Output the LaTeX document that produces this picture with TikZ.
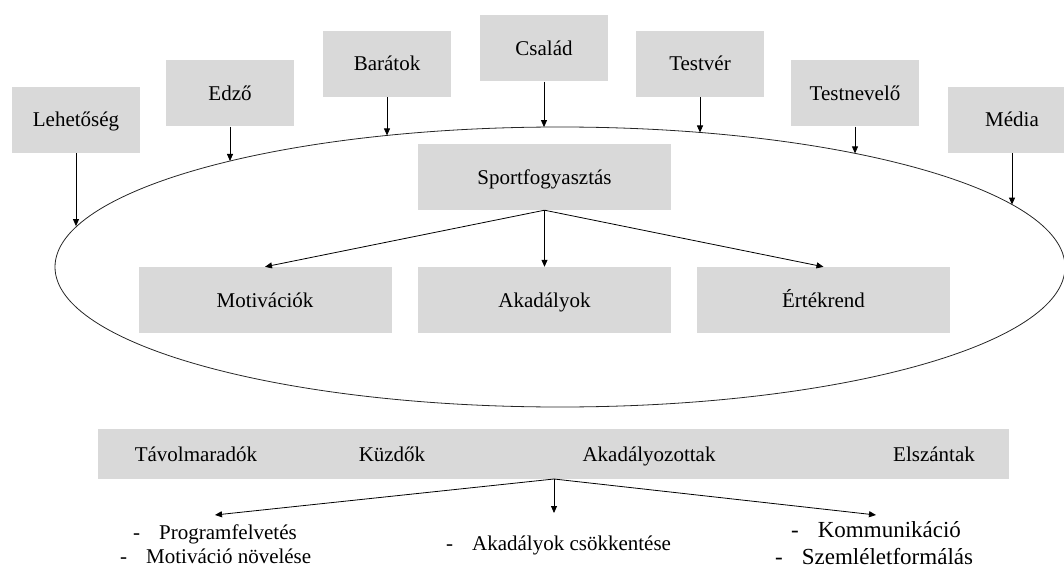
\documentclass[tikz,border=0pt]{standalone}
\usepackage{fontspec}
\setmainfont{Liberation Serif}
\usetikzlibrary{arrows.meta}
\definecolor{boxgray}{HTML}{D9D9D9}
\tikzset{
  txt/.style={font=\fontsize{21pt}{25pt}\selectfont, text=black, inner sep=0pt},
  txtbig/.style={font=\fontsize{23pt}{27pt}\selectfont, text=black, inner sep=0pt},
  ctxt/.style={txt, text height=14pt, text depth=0pt},
  topbox/.style={ctxt, fill=boxgray, minimum width=128pt, minimum height=66pt},
  midbox/.style={ctxt, fill=boxgray, minimum width=253pt, minimum height=66pt},
  arr/.style={-{Triangle[length=7pt,width=6pt]}, line width=0.8pt, draw=black},
  ellline/.style={line width=0.8pt, draw=black!85}
}
\begin{document}
\begin{tikzpicture}[x=1pt,y=-1pt]
\useasboundingbox (0,0) rectangle (1064,572);
\clip (0,0) rectangle (1064,572);

% ellipse
\draw[ellline] (560,267) ellipse [x radius=505pt, y radius=140pt];

% top boxes
\node[topbox] (lh) at (76,120) {Lehetőség};
\node[topbox] (ed) at (230,93.5) {Edző};
\node[topbox] (ba) at (387,64) {Barátok};
\node[topbox] (cs) at (544,48.5) {Család};
\node[topbox] (tv) at (700,64) {Testvér};
\node[topbox] (tn) at (855,93.5) {Testnevelő};
\node[topbox] (me) at (1012,120) {Média};

% points on the ellipse
\coordinate (e1) at (76,226.1);
\coordinate (e2) at (230,161);
\coordinate (e3) at (387,135.4);
\coordinate (e4) at (544,127.1);
\coordinate (e5) at (700,132.5);
\coordinate (e6) at (855,153.4);
\coordinate (e7) at (1012,204.6);

\draw[arr] (lh.south) -- (e1);
\draw[arr] (ed.south) -- (e2);
\draw[arr] (ba.south) -- (e3);
\draw[arr] (cs.south) -- (e4);
\draw[arr] (tv.south) -- (e5);
\draw[arr] (tn.south) -- (e6);
\draw[arr] (me.south) -- (e7);

% inner boxes
\node[midbox] (sp) at (544.5,177) {Sportfogyasztás};
\node[midbox] (mo) at (265,300) {Motivációk};
\node[midbox] (ak) at (544.5,300) {Akadályok};
\node[midbox] (er) at (823.5,300) {Értékrend};

\draw[arr] (sp.south) -- (mo.north);
\draw[arr] (sp.south) -- (ak.north);
\draw[arr] (sp.south) -- (er.north);

% bottom bar
\node[fill=boxgray, minimum width=911pt, minimum height=50pt, inner sep=0pt] (bar) at (553.5,454) {};
\node[ctxt] (t1) at (196,454) {Távolmaradók};
\node[ctxt] (t2) at (392,454) {Küzdők};
\node[ctxt] (t3) at (649,454) {Akadályozottak};
\node[ctxt] (t4) at (934,454) {Elszántak};

\coordinate (b0) at (554,479);
\coordinate (bl) at (215,515);
\coordinate (bm) at (554,513);
\coordinate (br) at (876,515);
\draw[arr] (b0) -- (bl);
\draw[arr] (b0) -- (bm);
\draw[arr] (b0) -- (br);

% lists
\node[txt, anchor=mid west] (l1) at (133,537) {-\hspace{19pt}Programfelvetés};
\node[txt, anchor=mid west] (l2) at (120,561) {-\hspace{19pt}Motiváció növelése};
\node[txt, anchor=mid west] (m1) at (446,548) {-\hspace{19pt}Akadályok csökkentése};
\node[txtbig, anchor=mid west] (r1) at (791,535) {-\hspace{19pt}Kommunikáció};
\node[txtbig, anchor=mid west] (r2) at (775,562) {-\hspace{19pt}Szemléletformálás};
\end{tikzpicture}
\end{document}
